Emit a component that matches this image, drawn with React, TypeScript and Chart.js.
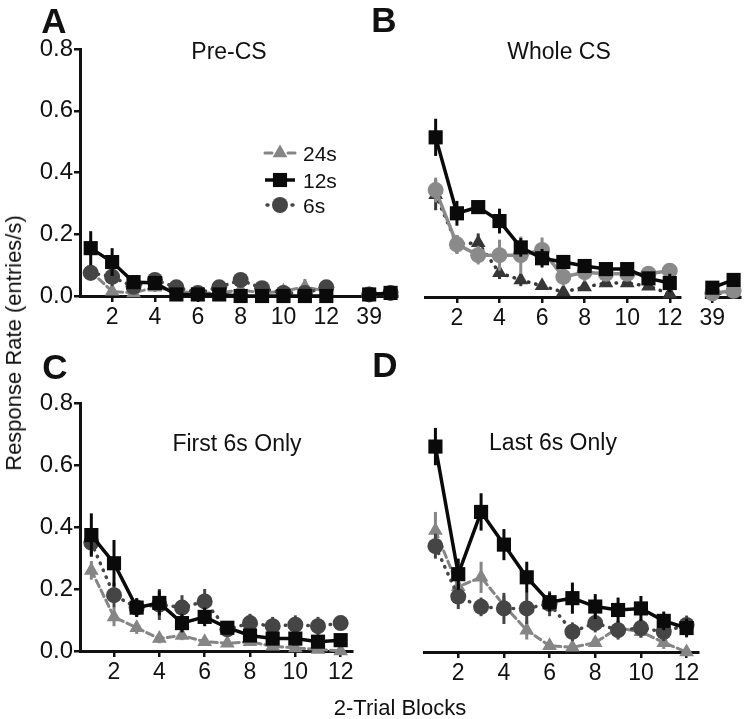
import React, { useEffect, useRef } from 'react';
import { Chart, registerables } from 'chart.js';

Chart.register(...registerables);

const FONT = '"Liberation Sans", Arial, Helvetica, sans-serif';

// ---------- data ----------
const blocksAB = [1, 2, 3, 4, 5, 6, 7, 8, 9, 10, 11, 12, 39, 40];
const blocksCD = [1, 2, 3, 4, 5, 6, 7, 8, 9, 10, 11, 12];
const xTicksAB = [2, 4, 6, 8, 10, 12, 39];
const xTicksCD = [2, 4, 6, 8, 10, 12];
const yTicks = [0, 0.2, 0.4, 0.6, 0.8];
const seriesLabels = ['24s', '12s', '6s'];
const panelTitles = ['Pre-CS', 'Whole CS', 'First 6s Only', 'Last 6s Only'];
const panelLetters = ['A', 'B', 'C', 'D'];
const yAxisTitle = 'Response Rate (entries/s)';
const xAxisTitle = '2-Trial Blocks';

// A: Pre-CS
const preCS24 = [0.08, 0.015, 0.01, 0.028, 0.015, 0.01, 0.01, 0.02, 0.01, 0.015, 0.03, 0.015, 0.005, 0.01];
const preCS24Err = [0.02, 0.01, 0.005, 0.015, 0.01, 0.005, 0.005, 0.01, 0.005, 0.01, 0.025, 0.01, 0.005, 0.005];
const preCS12 = [0.155, 0.11, 0.045, 0.042, 0.005, 0.005, 0.005, 0.0, 0.0, 0.0, 0.0, 0.0, 0.005, 0.01];
const preCS12Err = [0.055, 0.045, 0.02, 0.015, 0.01, 0.01, 0.01, 0.005, 0.005, 0.005, 0.005, 0.005, 0.005, 0.005];
const preCS6 = [0.075, 0.062, 0.03, 0.052, 0.028, 0.01, 0.028, 0.052, 0.025, 0.01, 0.01, 0.028, 0.005, 0.01];
const preCS6Err = [0.025, 0.03, 0.02, 0.015, 0.015, 0.01, 0.01, 0.02, 0.01, 0.01, 0.01, 0.015, 0.005, 0.005];

// B: Whole CS
const whole24 = [0.33, 0.17, 0.175, 0.078, 0.055, 0.036, 0.016, 0.032, 0.045, 0.045, 0.035, 0.01, 0.01, 0.015];
const whole24Err = [0.05, 0.03, 0.03, 0.02, 0.02, 0.01, 0.01, 0.01, 0.01, 0.01, 0.01, 0.01, 0.01, 0.01];
const whole12 = [0.515, 0.27, 0.29, 0.245, 0.16, 0.125, 0.113, 0.1, 0.09, 0.09, 0.06, 0.045, 0.03, 0.055];
const whole12Err = [0.06, 0.04, 0.02, 0.04, 0.03, 0.03, 0.02, 0.02, 0.02, 0.02, 0.02, 0.03, 0.02, 0.02];
const whole6 = [0.345, 0.17, 0.135, 0.135, 0.135, 0.152, 0.065, 0.08, 0.075, 0.075, 0.075, 0.085, 0.012, 0.02];
const whole6Err = [0.04, 0.03, 0.03, 0.05, 0.06, 0.04, 0.03, 0.03, 0.02, 0.02, 0.02, 0.02, 0.01, 0.01];

// C: First 6s only
const first24 = [0.26, 0.11, 0.075, 0.04, 0.05, 0.03, 0.025, 0.03, 0.015, 0.01, 0.005, 0.0];
const first24Err = [0.03, 0.03, 0.02, 0.015, 0.015, 0.01, 0.01, 0.01, 0.01, 0.01, 0.005, 0.005];
const first12 = [0.374, 0.283, 0.14, 0.155, 0.09, 0.11, 0.075, 0.05, 0.04, 0.04, 0.03, 0.035];
const first12Err = [0.07, 0.075, 0.03, 0.04, 0.03, 0.03, 0.02, 0.02, 0.02, 0.02, 0.02, 0.02];
const first6 = [0.35, 0.18, 0.14, 0.15, 0.14, 0.16, 0.07, 0.09, 0.08, 0.085, 0.08, 0.09];
const first6Err = [0.04, 0.04, 0.03, 0.05, 0.04, 0.04, 0.02, 0.03, 0.03, 0.03, 0.03, 0.02];

// D: Last 6s only
const last24 = [0.39, 0.21, 0.24, 0.15, 0.07, 0.02, 0.015, 0.03, 0.077, 0.065, 0.03, 0.0];
const last24Err = [0.06, 0.04, 0.05, 0.03, 0.03, 0.01, 0.01, 0.01, 0.02, 0.02, 0.02, 0.01];
const last12 = [0.66, 0.25, 0.45, 0.345, 0.24, 0.16, 0.173, 0.146, 0.135, 0.14, 0.1, 0.077];
const last12Err = [0.06, 0.05, 0.06, 0.05, 0.05, 0.03, 0.05, 0.04, 0.04, 0.04, 0.03, 0.03];
const last6 = [0.34, 0.178, 0.145, 0.14, 0.14, 0.155, 0.065, 0.093, 0.07, 0.077, 0.065, 0.087];
const last6Err = [0.04, 0.04, 0.03, 0.05, 0.05, 0.04, 0.03, 0.03, 0.03, 0.03, 0.03, 0.03];

// ---------- styles ----------
type Style = { color: string; point: string; dash: number[]; width: number; r: number };
const st24: Style = { color: '#858585', point: 'triangle', dash: [7, 4], width: 3, r: 8.5 };
const st12: Style = { color: '#0a0a0a', point: 'rect', dash: [], width: 3.5, r: 10 };
const st6: Style = { color: '#454545', point: 'circle', dash: [0.5, 7], width: 3.5, r: 8 };
const st24B: Style = { color: '#363636', point: 'triangle', dash: [0.5, 7], width: 3.5, r: 8.5 };
const st6B: Style = { color: '#8a8a8a', point: 'circle', dash: [], width: 3.5, r: 8 };

const posAB = (b: number) => (b > 12 ? b - 25 : b);
const posCD = (b: number) => b;

const errorBarPlugin = {
  id: 'errorBars',
  beforeDatasetDraw(chart: any, args: any) {
    const ds = chart.data.datasets[args.index];
    const errs = ds.errors;
    if (!errs) return;
    const ys = chart.scales.y;
    const ctx = chart.ctx;
    ctx.save();
    ctx.strokeStyle = ds.borderColor;
    ctx.lineWidth = 3;
    ctx.setLineDash([]);
    args.meta.data.forEach((el: any, i: number) => {
      const raw = ds.data[i];
      const e = errs[i];
      if (!raw || raw.y == null || !e) return;
      const top = ys.getPixelForValue(raw.y + e);
      const bot = ys.getPixelForValue(Math.max(raw.y - e, -0.012));
      ctx.beginPath();
      ctx.moveTo(el.x, top);
      ctx.lineTo(el.x, bot);
      ctx.stroke();
    });
    ctx.restore();
  },
};

const axisBreakPlugin = {
  id: 'axisBreak',
  beforeDatasetsDraw(chart: any, _args: any, opts: any) {
    if (!opts || opts.from == null) return;
    const xs = chart.scales.x;
    const ctx = chart.ctx;
    const x1 = xs.getPixelForValue(opts.from);
    const x2 = xs.getPixelForValue(opts.to);
    ctx.save();
    ctx.fillStyle = '#ffffff';
    ctx.fillRect(x1, chart.chartArea.bottom - 3, x2 - x1, 6);
    ctx.restore();
  },
};

function drawMarker(ctx: CanvasRenderingContext2D, style: string, x: number, y: number, r: number) {
  ctx.beginPath();
  if (style === 'triangle') {
    for (let k = 0; k < 3; k++) {
      const a = (k * 2 * Math.PI) / 3;
      const px = x + Math.sin(a) * r;
      const py = y - Math.cos(a) * r;
      if (k === 0) ctx.moveTo(px, py);
      else ctx.lineTo(px, py);
    }
    ctx.closePath();
  } else if (style === 'rect') {
    const s = Math.SQRT1_2 * r;
    ctx.rect(x - s, y - s, 2 * s, 2 * s);
  } else {
    ctx.arc(x, y, r, 0, Math.PI * 2);
  }
  ctx.fill();
}

const legendPlugin = {
  id: 'seriesLegend',
  afterDraw(chart: any, _args: any, opts: any) {
    if (!opts || !opts.show) return;
    const ctx = chart.ctx;
    const items = [
      { label: seriesLabels[0], s: st24, y: 153 },
      { label: seriesLabels[1], s: st12, y: 180 },
      { label: seriesLabels[2], s: st6, y: 205 },
    ];
    ctx.save();
    items.forEach((it) => {
      ctx.strokeStyle = it.s.color;
      ctx.fillStyle = it.s.color;
      ctx.lineWidth = it.s.width;
      ctx.setLineDash([]);
      ctx.lineCap = it.s.dash.length ? 'round' : 'butt';
      ctx.beginPath();
      if (it.s.dash.length && it.s.dash[0] < 1) {
        ctx.moveTo(267, it.y);
        ctx.lineTo(268, it.y);
        ctx.moveTo(292, it.y);
        ctx.lineTo(293, it.y);
      } else if (it.s.dash.length) {
        ctx.moveTo(265, it.y);
        ctx.lineTo(272, it.y);
        ctx.moveTo(288, it.y);
        ctx.lineTo(295, it.y);
      } else {
        ctx.moveTo(265, it.y);
        ctx.lineTo(295, it.y);
      }
      ctx.stroke();
      drawMarker(ctx, it.s.point, 280, it.y, it.s.r);
      ctx.fillStyle = '#111';
      ctx.font = `21px ${FONT}`;
      ctx.textBaseline = 'alphabetic';
      ctx.textAlign = 'left';
      ctx.fillText(it.label, 303, it.y + 7.5);
    });
    ctx.restore();
  },
};

function makeDatasets(
  blocks: number[],
  pos: (b: number) => number,
  v24: number[], e24: number[], v12: number[], e12: number[], v6: number[], e6: number[],
  s24: Style, s12: Style, s6: Style
) {
  const mk = (label: string, vals: number[], errs: number[], s: Style) => ({
    label,
    data: blocks.map((b, i) => ({ x: pos(b), y: vals[i] })),
    errors: errs,
    borderColor: s.color,
    backgroundColor: s.color,
    pointBackgroundColor: s.color,
    pointBorderColor: s.color,
    borderWidth: s.width,
    borderDash: s.dash,
    borderCapStyle: s.dash.length ? 'round' : 'butt',
    pointStyle: s.point,
    pointRadius: s.r,
    pointHoverRadius: s.r,
    pointBorderWidth: 0,
    tension: 0,
    fill: false,
    clip: false,
    segment: {
      borderColor: (c: any) => (c.p1.parsed.x - c.p0.parsed.x > 1.5 ? 'rgba(0,0,0,0)' : undefined),
    },
  });
  return [mk(seriesLabels[1], v12, e12, s12), mk(seriesLabels[2], v6, e6, s6), mk(seriesLabels[0], v24, e24, s24)];
}

type Area = { left: number; right: number; top: number; bottom: number };

function makeConfig(opts: {
  area: Area;
  datasets: any[];
  showY: boolean;
  xMin: number;
  xMax: number;
  ticks: number[];
  pos: (b: number) => number;
  legend?: boolean;
  brk?: { from: number; to: number } | null;
}) {
  const { area, showY } = opts;
  const yW = showY ? 60 : 0;
  const xH = 40;
  const tickLabels: Record<string, string> = {};
  opts.ticks.forEach((t) => (tickLabels[String(opts.pos(t))] = String(t)));
  return {
    type: 'line',
    data: { datasets: opts.datasets },
    options: {
      responsive: false,
      animation: false,
      devicePixelRatio: 1,
      events: [],
      layout: {
        padding: {
          left: area.left - yW,
          right: 750 - area.right,
          top: area.top,
          bottom: 719 - area.bottom - xH,
        },
      },
      plugins: {
        legend: { display: false },
        tooltip: { enabled: false },
        title: { display: false },
        seriesLegend: { show: !!opts.legend },
        axisBreak: opts.brk ? { from: opts.brk.from, to: opts.brk.to } : {},
      },
      scales: {
        x: {
          type: 'linear',
          min: opts.xMin,
          max: opts.xMax,
          afterBuildTicks: (axis: any) => {
            axis.ticks = opts.ticks.map((t) => ({ value: opts.pos(t) }));
          },
          afterFit: (s: any) => {
            s.height = xH;
          },
          ticks: {
            autoSkip: false,
            maxRotation: 0,
            padding: 2,
            color: '#111',
            font: { size: 23, family: FONT },
            callback: (v: any) => tickLabels[String(v)] ?? '',
          },
          grid: { display: true, drawOnChartArea: false, drawTicks: true, tickLength: 6, color: '#111', lineWidth: 2.5 },
          border: { display: true, color: '#111', width: 3 },
        },
        y: {
          type: 'linear',
          display: showY,
          min: 0,
          max: 0.8,
          afterBuildTicks: (axis: any) => {
            axis.ticks = yTicks.map((t) => ({ value: t }));
          },
          afterFit: (s: any) => {
            s.width = yW;
          },
          ticks: {
            padding: 1,
            color: '#111',
            font: { size: 24, family: FONT },
            callback: (v: any) => Number(v).toFixed(1),
          },
          grid: { display: true, drawOnChartArea: false, drawTicks: true, tickLength: 6, color: '#111', lineWidth: 2.5 },
          border: { display: true, color: '#111', width: 3 },
        },
      },
    },
    plugins: [errorBarPlugin, axisBreakPlugin, legendPlugin],
  } as any;
}

function Panel({ config }: { config: any }) {
  const ref = useRef<HTMLCanvasElement | null>(null);
  useEffect(() => {
    if (!ref.current) return;
    const chart = new Chart(ref.current, config);
    return () => chart.destroy();
  }, [config]);
  return (
    <canvas
      ref={ref}
      width={750}
      height={719}
      style={{ position: 'absolute', left: 0, top: 0, width: 750, height: 719, pointerEvents: 'none' }}
    />
  );
}

const configs = [
  makeConfig({
    area: { left: 80, right: 397, top: 49, bottom: 296 },
    datasets: makeDatasets(blocksAB, posAB, preCS24, preCS24Err, preCS12, preCS12Err, preCS6, preCS6Err, st24, st12, st6),
    showY: true, xMin: 0.5, xMax: 15.3, ticks: xTicksAB, pos: posAB, legend: true, brk: null,
  }),
  makeConfig({
    area: { left: 425, right: 742, top: 49, bottom: 297 },
    datasets: makeDatasets(blocksAB, posAB, whole24, whole24Err, whole12, whole12Err, whole6, whole6Err, st24B, st12, st6B),
    showY: false, xMin: 0.5, xMax: 15.3, ticks: xTicksAB, pos: posAB, brk: { from: 12.55, to: 13.65 },
  }),
  makeConfig({
    area: { left: 80, right: 352, top: 403, bottom: 651 },
    datasets: makeDatasets(blocksCD, posCD, first24, first24Err, first12, first12Err, first6, first6Err, st24, st12, st6),
    showY: true, xMin: 0.5, xMax: 12.5, ticks: xTicksCD, pos: posCD,
  }),
  makeConfig({
    area: { left: 424, right: 698, top: 403, bottom: 652 },
    datasets: makeDatasets(blocksCD, posCD, last24, last24Err, last12, last12Err, last6, last6Err, st24, st12, st6),
    showY: false, xMin: 0.5, xMax: 12.5, ticks: xTicksCD, pos: posCD,
  }),
];

const letterPos = [
  { x: 54, y: 19.5 },
  { x: 384, y: 18.5 },
  { x: 55, y: 366 },
  { x: 385, y: 364 },
];
const titlePos = [
  { x: 229, y: 51 },
  { x: 559, y: 51 },
  { x: 237, y: 443 },
  { x: 553, y: 442 },
];

function Label({ x, y, text, size, bold, rotate }: { x: number; y: number; text: string; size: number; bold?: boolean; rotate?: boolean }) {
  return (
    <div
      style={{
        position: 'absolute',
        left: x,
        top: y,
        transform: `translate(-50%, -50%)${rotate ? ' rotate(-90deg)' : ''}`,
        fontFamily: FONT,
        fontSize: size,
        fontWeight: bold ? 700 : 400,
        lineHeight: 1,
        whiteSpace: 'nowrap',
        color: '#111',
      }}
    >
      {text}
    </div>
  );
}

export default function App() {
  return (
    <div style={{ position: 'absolute', left: 0, top: 0, width: 750, height: 719, background: '#fff', overflow: 'hidden' }}>
      {configs.map((c, i) => (
        <Panel key={i} config={c} />
      ))}
      {panelLetters.map((t, i) => (
        <Label key={'l' + i} x={letterPos[i].x} y={letterPos[i].y} text={t} size={35} bold />
      ))}
      {panelTitles.map((t, i) => (
        <Label key={'t' + i} x={titlePos[i].x} y={titlePos[i].y} text={t} size={23} />
      ))}
      <Label x={14} y={343} text={yAxisTitle} size={22} rotate />
      <Label x={400} y={708} text={xAxisTitle} size={22} />
    </div>
  );
}
